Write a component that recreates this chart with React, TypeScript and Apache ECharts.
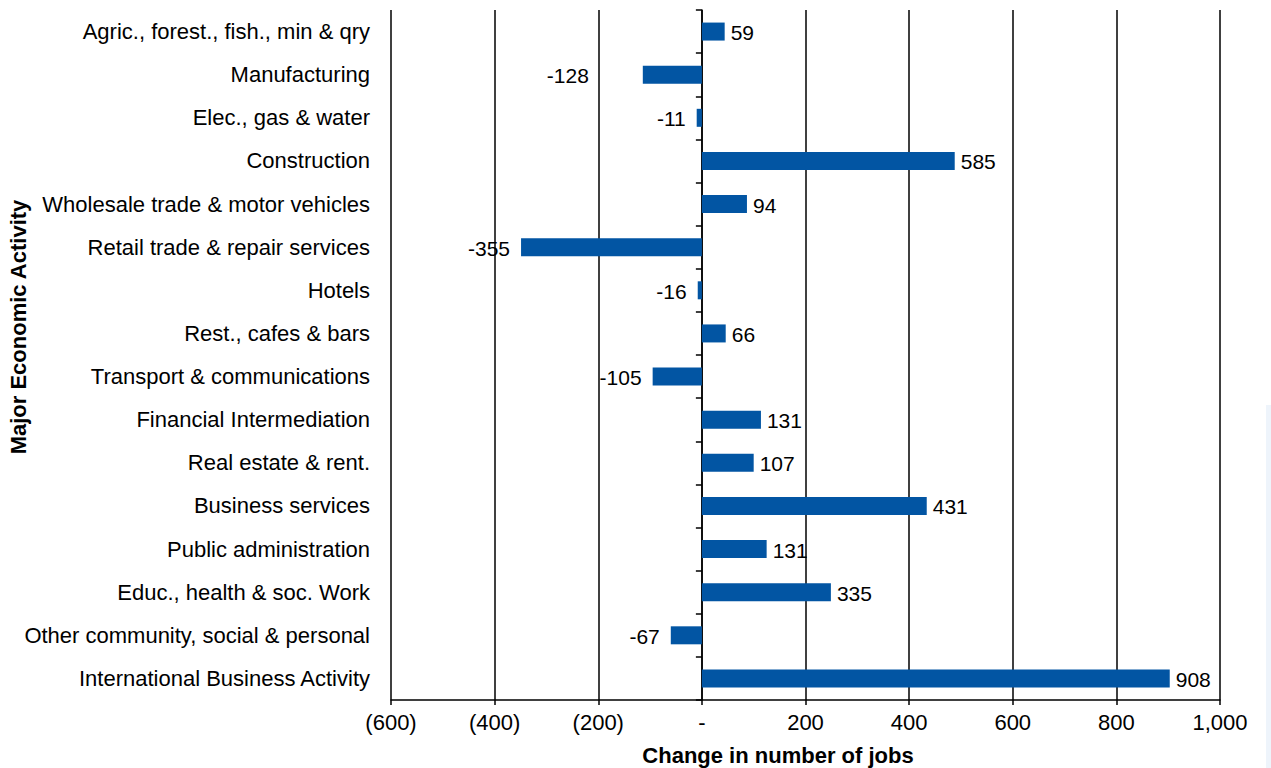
import React, { useEffect, useRef } from "react";
import * as echarts from "echarts";

const categories = [
  "Agric., forest., fish., min & qry",
  "Manufacturing",
  "Elec., gas & water",
  "Construction",
  "Wholesale trade & motor vehicles",
  "Retail trade & repair services",
  "Hotels",
  "Rest., cafes & bars",
  "Transport & communications",
  "Financial Intermediation",
  "Real estate & rent.",
  "Business services",
  "Public administration",
  "Educ., health & soc. Work",
  "Other community, social & personal",
  "International Business Activity",
];

// Bar lengths as drawn in the picture
const barValues = [44, -114, -10, 488, 87, -349, -8, 46, -95, 114, 100, 434, 125, 249, -60, 903];

// Values printed next to the bars
const labelValues = [59, -128, -11, 585, 94, -355, -16, 66, -105, 131, 107, 431, 131, 335, -67, 908];

const xMin = -600;
const xMax = 1000;
const xStep = 200;

const xTitle = "Change in number of jobs";
const yTitle = "Major Economic Activity";

const FONT = "'Liberation Sans', Arial, Helvetica, sans-serif";

function fmtTick(v: number): string {
  if (v === 0) return "-";
  const s = Math.abs(v).toLocaleString("en-US");
  return v < 0 ? `(${s})` : s;
}

export default function App() {
  const ref = useRef<HTMLDivElement>(null);

  useEffect(() => {
    if (!ref.current) return;
    const chart = echarts.init(ref.current, undefined, { renderer: "svg" });

    const data = barValues.map((v, i) => {
      const neg = v < 0;
      const item: any = {
        value: v,
        label: {
          position: neg ? "left" : "right",
          distance: neg ? (i === 1 ? 54 : 11) : 6,
        },
      };
      return item;
    });

    chart.setOption({
      animation: false,
      backgroundColor: "#ffffff",
      grid: { left: 391, right: 51, top: 10, bottom: 68, containLabel: false },
      xAxis: {
        type: "value",
        min: xMin,
        max: xMax,
        interval: xStep,
        axisLine: { show: true, lineStyle: { color: "#000", width: 1.5 } },
        axisTick: { show: true, length: 5, lineStyle: { color: "#000", width: 1.5 } },
        axisLabel: {
          formatter: (v: number) => fmtTick(v),
          color: "#000",
          fontSize: 22,
          fontFamily: FONT,
          margin: 11,
        },
        splitLine: { show: true, lineStyle: { color: "#000", width: 1.5 } },
      },
      yAxis: [
        {
          type: "category",
          data: categories,
          inverse: true,
          position: "left",
          axisLine: { show: false, onZero: false },
          axisTick: { show: false },
          axisLabel: {
            color: "#000",
            fontSize: 22,
            fontFamily: FONT,
            margin: 21,
          },
        },
        {
          type: "category",
          data: categories,
          inverse: true,
          position: "left",
          axisLine: { show: true, onZero: true, lineStyle: { color: "#000", width: 1.5 } },
          axisTick: { show: true, inside: false, length: 6, lineStyle: { color: "#000", width: 1.5 } },
          axisLabel: { show: false },
          splitLine: { show: false },
        },
      ],
      series: [
        {
          type: "bar",
          yAxisIndex: 0,
          data,
          barWidth: 18,
          itemStyle: { color: "#0255A3" },
          label: {
            show: true,
            color: "#000",
            fontSize: 21,
            fontFamily: FONT,
            offset: [0, 1],
            formatter: (p: any) => String(labelValues[p.dataIndex]),
          },
        },
      ],
      graphic: [
        {
          type: "text",
          x: 778,
          y: 755,
          style: {
            text: xTitle,
            fill: "#000",
            font: `bold 22px ${FONT}`,
            textAlign: "center",
            textVerticalAlign: "middle",
          },
        },
        {
          type: "text",
          x: 18,
          y: 327,
          rotation: Math.PI / 2,
          style: {
            text: yTitle,
            fill: "#000",
            font: `bold 22px ${FONT}`,
            textAlign: "center",
            textVerticalAlign: "middle",
          },
        },
        {
          type: "rect",
          shape: { x: 1266, y: 405, width: 5, height: 363 },
          style: { fill: "#eef4fb" },
          silent: true,
        },
      ],
    });

    return () => chart.dispose();
  }, []);

  return (
    <div
      ref={ref}
      style={{ position: "fixed", left: 0, top: 0, width: 1271, height: 768 }}
    />
  );
}
